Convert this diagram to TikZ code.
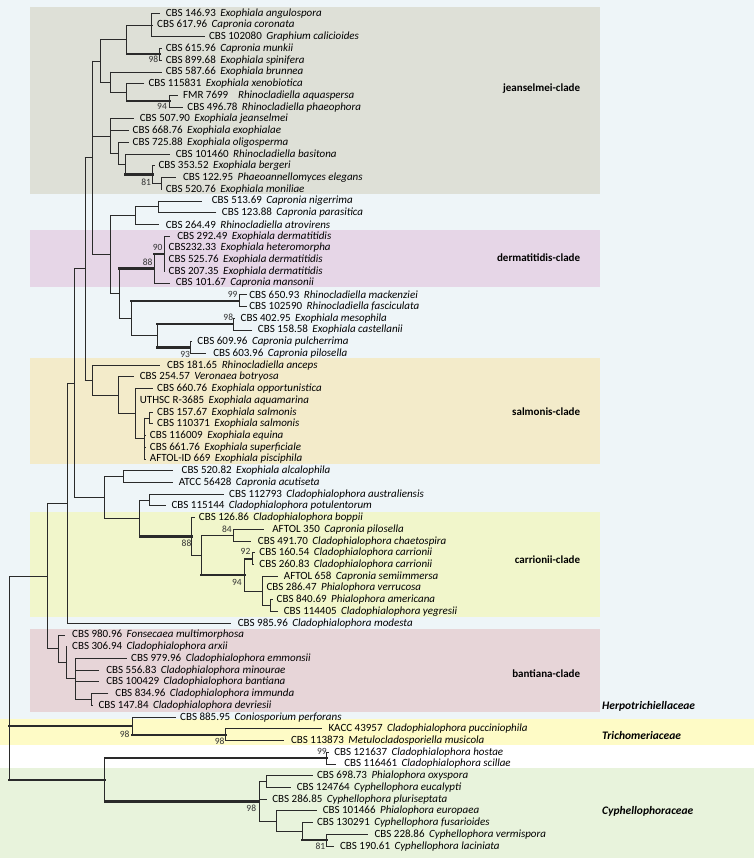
\documentclass[tikz,border=0pt]{standalone}
\usepackage{fontspec}
\setmainfont{Carlito}
\definecolor{bgblue}{HTML}{EEF5F8}
\definecolor{cjean}{HTML}{DEE0D7}
\definecolor{cderm}{HTML}{E6D6E7}
\definecolor{csalm}{HTML}{F3EBCA}
\definecolor{ccarr}{HTML}{F1F6CB}
\definecolor{cbant}{HTML}{E7D5D8}
\definecolor{ctrich}{HTML}{FEFBC6}
\definecolor{ccyph}{HTML}{E8F3DC}
\definecolor{lncol}{HTML}{2A2A2A}
\tikzset{
  lfs/.style={anchor=west, inner sep=0pt, font=\fontsize{11}{12}\selectfont},
  bsv/.style={anchor=east, inner sep=0pt, font=\fontsize{9.5}{10}\selectfont, text=black!80},
  clade/.style={anchor=east, inner sep=0pt, font=\fontsize{11}{12}\selectfont\bfseries},
  fam/.style={anchor=west, inner sep=0pt, font=\fontsize{11.5}{12}\selectfont\bfseries\itshape},
  br/.style={line width=0.9pt, draw=lncol, line cap=rect},
  tk/.style={line width=2.3pt}
}
\newcommand{\leafx}[6]{\coordinate (t#1) at (#2,#3); \node[lfs] (n#1) at (#4,#3) {#5\hspace{2pt} \textit{#6}};}
\newcommand{\hbr}[3][]{\draw[br,#1] (#2 |- #3) -- (#3);}
\newcommand{\vbr}[3]{\draw[br] (#1 |- #2) -- (#1 |- #3);}
\begin{document}
\begin{tikzpicture}[x=1.44pt,y=-1pt]
\useasboundingbox (0,0) rectangle (523.61,858);
% backgrounds
\fill[bgblue] (0,0) rectangle (523.61,858);
\fill[cjean] (20.7,6.7) rectangle (416.7,194);
\fill[cderm] (20.7,230) rectangle (416.7,287.3);
\fill[csalm] (20.7,358.3) rectangle (416.7,464);
\fill[ccarr] (20.7,511.7) rectangle (416.7,617.3);
\fill[cbant] (20.7,629.3) rectangle (416.7,711.7);
\fill[ctrich] (0,719.3) rectangle (523.61,744.7);
\fill[white] (0,744.7) rectangle (523.61,768);
\fill[ccyph] (0,768) rectangle (523.61,858);

% leaves
\leafx{1}{111}{13.3}{115}{CBS 146.93}{Exophiala angulospora}
\leafx{2}{106}{25.0}{109}{CBS 617.96}{Capronia coronata}
\leafx{3}{142}{36.8}{145}{CBS 102080}{Graphium calicioides}
\leafx{4}{112}{48.5}{115}{CBS 615.96}{Capronia munkii}
\leafx{5}{112}{60.2}{115}{CBS 899.68}{Exophiala spinifera}
\leafx{6}{112}{72.0}{115}{CBS 587.66}{Exophiala brunnea}
\leafx{7}{100}{83.7}{103}{CBS 115831}{Exophiala xenobiotica}
\coordinate (t8) at (123,95.4); \node[lfs] (n8) at (127,95.4) {\makebox[55pt][l]{FMR 7699}\textit{Rhinocladiella aquaspersa}};
\leafx{9}{127}{107.1}{130}{CBS 496.78}{Rhinocladiella phaeophora}
\leafx{10}{93}{118.9}{97}{CBS 507.90}{Exophiala jeanselmei}
\leafx{11}{89}{130.6}{92}{CBS 668.76}{Exophiala exophialae}
\leafx{12}{89}{142.3}{92}{CBS 725.88}{Exophiala oligosperma}
\leafx{13}{118}{154.1}{122}{CBS 101460}{Rhinocladiella basitona}
\leafx{14}{107}{165.8}{110}{CBS 353.52}{Exophiala bergeri}
\leafx{15}{122}{177.5}{127}{CBS 122.95}{Phaeoannellomyces elegans}
\leafx{16}{112}{189.2}{115}{CBS 520.76}{Exophiala moniliae}
\leafx{17}{140}{201.0}{147}{CBS 513.69}{Capronia nigerrima}
\leafx{18}{150}{212.7}{154}{CBS 123.88}{Capronia parasitica}
\leafx{19}{110}{224.4}{115}{CBS 264.49}{Rhinocladiella atrovirens}
\leafx{20}{118}{236.2}{123}{CBS 292.49}{Exophiala dermatitidis}
\leafx{21}{114}{247.9}{117}{CBS232.33}{Exophiala heteromorpha}
\leafx{22}{114}{259.6}{117}{CBS 525.76}{Exophiala dermatitidis}
\leafx{23}{114}{271.4}{117}{CBS 207.35}{Exophiala dermatitidis}
\leafx{24}{118}{283.1}{122}{CBS 101.67}{Capronia mansonii}
\leafx{25}{171}{294.8}{173}{CBS 650.93}{Rhinocladiella mackenziei}
\leafx{26}{171}{306.5}{173}{CBS 102590}{Rhinocladiella fasciculata}
\leafx{27}{163}{318.3}{167}{CBS 402.95}{Exophiala mesophila}
\leafx{28}{175}{330.0}{179}{CBS 158.58}{Exophiala castellanii}
\leafx{29}{133}{341.7}{137}{CBS 609.96}{Capronia pulcherrima}
\leafx{30}{143}{353.5}{148}{CBS 603.96}{Capronia pilosella}
\leafx{31}{111}{365.2}{116}{CBS 181.65}{Rhinocladiella anceps}
\leafx{32}{93}{376.9}{97}{CBS 254.57}{Veronaea botryosa}
\leafx{33}{106}{388.6}{109}{CBS 660.76}{Exophiala opportunistica}
\leafx{34}{94}{400.4}{97}{UTHSC R-3685}{Exophiala aquamarina}
\leafx{35}{106}{412.1}{109}{CBS 157.67}{Exophiala salmonis}
\leafx{36}{106}{423.8}{109}{CBS 110371}{Exophiala salmonis}
\leafx{37}{101}{435.6}{104}{CBS 116009}{Exophiala equina}
\leafx{38}{101}{447.3}{104}{CBS 661.76}{Exophiala superficiale}
\leafx{39}{101}{459.0}{104}{AFTOL-ID 669}{Exophiala pisciphila}
\leafx{40}{120}{470.8}{126}{CBS 520.82}{Exophiala alcalophila}
\leafx{41}{120}{482.5}{124}{ATCC 56428}{Capronia acutiseta}
\leafx{42}{155}{494.2}{159}{CBS 112793}{Cladophialophora australiensis}
\leafx{43}{115}{505.9}{119}{CBS 115144}{Cladophialophora potulentorum}
\leafx{44}{135}{517.7}{138}{CBS 126.86}{Cladophialophora boppii}
\leafx{45}{183}{529.4}{189}{AFTOL 350}{Capronia pilosella}
\leafx{46}{174}{541.1}{179}{CBS 491.70}{Cladophialophora chaetospira}
\leafx{47}{177}{552.9}{180}{CBS 160.54}{Cladophialophora carrionii}
\leafx{48}{176}{564.6}{180}{CBS 260.83}{Cladophialophora carrionii}
\leafx{49}{193}{576.3}{197}{AFTOL 658}{Capronia semiimmersa}
\leafx{50}{182}{588.0}{185}{CBS 286.47}{Phialophora verrucosa}
\leafx{51}{189}{599.8}{192}{CBS 840.69}{Phialophora americana}
\leafx{52}{193}{611.5}{197}{CBS 114405}{Cladophialophora yegresii}
\leafx{53}{160}{623.2}{165}{CBS 985.96}{Cladophialophora modesta}
\leafx{54}{45}{635.0}{50}{CBS 980.96}{Fonsecaea multimorphosa}
\leafx{55}{46}{646.7}{50}{CBS 306.94}{Cladophialophora arxii}
\leafx{56}{87.7}{658.4}{91}{CBS 979.96}{Cladophialophora emmonsii}
\leafx{57}{68.3}{670.2}{73.7}{CBS 556.83}{Cladophialophora minourae}
\leafx{58}{68.3}{681.9}{73.7}{CBS 100429}{Cladophialophora bantiana}
\leafx{59}{75}{693.6}{80}{CBS 834.96}{Cladophialophora immunda}
\leafx{60}{64}{705.3}{68.3}{CBS 147.84}{Cladophialophora devriesii}
\leafx{61}{122}{717.1}{125}{CBS 885.95}{Coniosporium perforans}
\leafx{62}{223.3}{728.8}{228}{KACC 43957}{Cladophialophora pucciniophila}
\leafx{63}{196.7}{740.5}{202}{CBS 113873}{Metulocladosporiella musicola}
\leafx{64}{228}{752.3}{232}{CBS 121637}{Cladophialophora hostae}
\leafx{65}{233}{764.0}{239}{CBS 116461}{Cladophialophora scillae}
\leafx{66}{216.7}{775.7}{220}{CBS 698.73}{Phialophora oxyspora}
\leafx{67}{201.7}{787.4}{206}{CBS 124764}{Cyphellophora eucalypti}
\leafx{68}{185}{799.2}{189}{CBS 286.85}{Cyphellophora pluriseptata}
\leafx{69}{220}{810.9}{224}{CBS 101466}{Phialophora europaea}
\leafx{70}{216.7}{822.6}{220}{CBS 130291}{Cyphellophora fusarioides}
\leafx{71}{255}{834.4}{260}{CBS 228.86}{Cyphellophora vermispora}
\leafx{72}{231.7}{846.1}{236}{CBS 190.61}{Cyphellophora laciniata}

% internal nodes
\coordinate (A) at (105,25.05);
\coordinate (N45) at (111,54.35);
\coordinate (B) at (88,39.7);
\coordinate (F) at (118,101.25);
\coordinate (E) at (88,92.5);
\coordinate (D) at (77,82.25);
\coordinate (C) at (70,61.0);
\coordinate (M) at (112,183.35);
\coordinate (NL) at (106,174.6);
\coordinate (K) at (87,164.35);
\coordinate (J) at (82,153.3);
\coordinate (H) at (77,136.1);
\coordinate (Mn) at (110,206.85);
\coordinate (Nn) at (94,215.6);
\coordinate (S) at (114,253.8);
\coordinate (Q) at (107,268.45);
\coordinate (V) at (166,300.65);
\coordinate (X) at (162,324.15);
\coordinate (Y) at (132,347.6);
\coordinate (W) at (109,335.9);
\coordinate (U) at (91,318.3);
\coordinate (T) at (83,293.4);
\coordinate (O) at (77,254.5);
\coordinate (Z2) at (64,157.75);
\coordinate (AE) at (104,417.95);
\coordinate (AD) at (100,438.5);
\coordinate (AC) at (94,413.55);
\coordinate (AB) at (82,395.2);
\coordinate (AA) at (64,380.2);
\coordinate (Z1) at (59,268.95);
\coordinate (AG) at (86,476.65);
\coordinate (AI) at (104,500.05);
\coordinate (AL) at (162,535.25);
\coordinate (AN) at (175,558.75);
\coordinate (AP) at (188,605.65);
\coordinate (AO) at (182,590.98);
\coordinate (AM) at (170,574.86);
\coordinate (AK) at (140,555.05);
\coordinate (AJ) at (133,536.4);
\coordinate (AH) at (97,518.2);
\coordinate (AF) at (72.7,497.4);
\coordinate (Z0) at (52,383.2);
\coordinate (AQ) at (46.7,503.2);
\coordinate (AS) at (63.3,699.45);
\coordinate (AT) at (52.7,678.9);
\coordinate (AU) at (46,662.8);
\coordinate (AV) at (40.7,648.9);
\coordinate (AR) at (33,576.05);
\coordinate (AW) at (156.7,734.65);
\coordinate (TR) at (91.7,725.9);
\coordinate (AY) at (226.7,758.15);
\coordinate (BA) at (185,781.55);
\coordinate (BD) at (226.7,840.25);
\coordinate (BC) at (210,831.4);
\coordinate (BB) at (192,821.15);
\coordinate (AZ) at (180,801.35);
\coordinate (AX) at (72.7,779.75);
\coordinate (ROOT) at (6.7,677.9);

% branches: jeanselmei
\vbr{A}{t1}{t3} \hbr{A}{t1} \hbr{A}{t2} \hbr{A}{t3}
\vbr{N45}{t4}{t5} \hbr{N45}{t4} \hbr{N45}{t5}
\vbr{B}{A}{N45} \hbr{B}{A} \hbr[tk]{B}{N45}
\vbr{F}{t8}{t9} \hbr{F}{t8} \hbr{F}{t9}
\vbr{E}{t7}{F} \hbr{E}{t7} \hbr[tk]{E}{F}
\vbr{D}{t6}{E} \hbr{D}{t6} \hbr{D}{E}
\vbr{C}{B}{D} \hbr{C}{B} \hbr{C}{D}
\vbr{M}{t15}{t16} \hbr{M}{t15} \hbr{M}{t16}
\vbr{NL}{t14}{M} \hbr{NL}{t14} \hbr{NL}{M}
\vbr{K}{t13}{NL} \hbr{K}{t13} \hbr[tk]{K}{NL}
\vbr{J}{t12}{K} \hbr{J}{t12} \hbr{J}{K}
\vbr{H}{t10}{J} \hbr{H}{t10} \hbr{H}{t11} \hbr{H}{J}
% dermatitidis group
\vbr{Mn}{t17}{t18} \hbr{Mn}{t17} \hbr{Mn}{t18}
\vbr{Nn}{Mn}{t19} \hbr{Nn}{Mn} \hbr{Nn}{t19}
\vbr{S}{t20}{t23} \hbr{S}{t20} \hbr{S}{t21} \hbr{S}{t22} \hbr{S}{t23}
\vbr{Q}{S}{t24} \hbr[tk]{Q}{S} \hbr{Q}{t24}
\vbr{V}{t25}{t26} \hbr{V}{t25} \hbr{V}{t26}
\vbr{X}{t27}{t28} \hbr{X}{t27} \hbr{X}{t28}
\vbr{Y}{t29}{t30} \hbr{Y}{t29} \hbr{Y}{t30}
\vbr{W}{X}{Y} \hbr[tk]{W}{X} \hbr[tk]{W}{Y}
\vbr{U}{V}{W} \hbr[tk]{U}{V} \hbr{U}{W}
\vbr{T}{Q}{U} \hbr[tk]{T}{Q} \hbr{T}{U}
\vbr{O}{Nn}{T} \hbr{O}{Nn} \hbr{O}{T}
\vbr{Z2}{C}{O} \hbr{Z2}{C} \hbr{Z2}{H} \hbr{Z2}{O}
% salmonis
\vbr{AE}{t35}{t36} \hbr{AE}{t35} \hbr{AE}{t36}
\vbr{AD}{AE}{t39} \hbr{AD}{AE} \hbr{AD}{t37} \hbr{AD}{t38} \hbr{AD}{t39}
\vbr{AC}{t33}{AD} \hbr{AC}{t33} \hbr{AC}{t34} \hbr{AC}{AD}
\vbr{AB}{t32}{AC} \hbr{AB}{t32} \hbr{AB}{AC}
\vbr{AA}{t31}{AB} \hbr{AA}{t31} \hbr{AA}{AB}
\vbr{Z1}{Z2}{AA} \hbr{Z1}{Z2} \hbr{Z1}{AA}
% carrionii
\vbr{AG}{t40}{t41} \hbr{AG}{t40} \hbr{AG}{t41}
\vbr{AI}{t42}{t43} \hbr{AI}{t42} \hbr{AI}{t43}
\vbr{AL}{t45}{t46} \hbr{AL}{t45} \hbr{AL}{t46}
\vbr{AN}{t47}{t48} \hbr{AN}{t47} \hbr{AN}{t48}
\vbr{AP}{t51}{t52} \hbr{AP}{t51} \hbr{AP}{t52}
\vbr{AO}{t49}{AP} \hbr{AO}{t49} \hbr{AO}{t50} \hbr{AO}{AP}
\vbr{AM}{AN}{AO} \hbr[tk]{AM}{AN} \hbr{AM}{AO}
\vbr{AK}{AL}{AM} \hbr{AK}{AL} \hbr[tk]{AK}{AM}
\vbr{AJ}{t44}{AK} \hbr{AJ}{t44} \hbr{AJ}{AK}
\vbr{AH}{AI}{AJ} \hbr{AH}{AI} \hbr[tk]{AH}{AJ}
\vbr{AF}{AG}{AH} \hbr{AF}{AG} \hbr{AF}{AH}
\vbr{Z0}{Z1}{AF} \hbr{Z0}{Z1} \hbr{Z0}{AF}
\vbr{AQ}{Z0}{t53} \hbr{AQ}{Z0} \hbr{AQ}{t53}
% bantiana
\vbr{AS}{t59}{t60} \hbr{AS}{t59} \hbr{AS}{t60}
\vbr{AT}{t56}{AS} \hbr{AT}{t56} \hbr{AT}{t57} \hbr{AT}{t58} \hbr{AT}{AS}
\vbr{AU}{t55}{AT} \hbr{AU}{t55} \hbr{AU}{AT}
\vbr{AV}{t54}{AU} \hbr{AV}{t54} \hbr{AV}{AU}
\vbr{AR}{AQ}{AV} \hbr{AR}{AQ} \hbr{AR}{AV}
% Trichomeriaceae
\vbr{AW}{t62}{t63} \hbr{AW}{t62} \hbr{AW}{t63}
\vbr{TR}{t61}{AW} \hbr{TR}{t61} \hbr[tk]{TR}{AW}
% Cyphellophoraceae
\vbr{AY}{t64}{t65} \hbr{AY}{t64} \hbr{AY}{t65}
\vbr{BA}{t66}{t67} \hbr{BA}{t66} \hbr{BA}{t67}
\vbr{BD}{t71}{t72} \hbr{BD}{t71} \hbr{BD}{t72}
\vbr{BC}{t70}{BD} \hbr{BC}{t70} \hbr[tk]{BC}{BD}
\vbr{BB}{t69}{BC} \hbr{BB}{t69} \hbr{BB}{BC}
\vbr{AZ}{BA}{BB} \hbr{AZ}{BA} \hbr{AZ}{t68} \hbr{AZ}{BB}
\vbr{AX}{AY}{AZ} \hbr[tk]{AX}{AY} \hbr[tk]{AX}{AZ}
% root
\vbr{ROOT}{AR}{AX} \hbr{ROOT}{AR} \hbr[tk]{ROOT}{TR} \hbr[tk]{ROOT}{AX}

% bootstrap values
\node[bsv] (b1) at (110,59.5) {98};
\node[bsv] (b2) at (116,106) {94};
\node[bsv] (b3) at (105,182) {81};
\node[bsv] (b4) at (113,247) {90};
\node[bsv] (b5) at (106,262) {88};
\node[bsv] (b6) at (165,294) {99};
\node[bsv] (b7) at (162,317) {98};
\node[bsv] (b8) at (132,354) {93};
\node[bsv] (b9) at (161,529) {84};
\node[bsv] (b10) at (133,543) {88};
\node[bsv] (b11) at (174,551) {92};
\node[bsv] (b12) at (168,582) {94};
\node[bsv] (b13) at (90,734.5) {98};
\node[bsv] (b14) at (156,741) {98};
\node[bsv] (b15) at (227,751.5) {99};
\node[bsv] (b16) at (178,808.5) {98};
\node[bsv] (b17) at (226,846) {81};

% clade labels
\node[clade] (c1) at (403,88.3) {jeanselmei-clade};
\node[clade] (c2) at (403,258) {dermatitidis-clade};
\node[clade] (c3) at (403,411.7) {salmonis-clade};
\node[clade] (c4) at (403,560) {carrionii-clade};
\node[clade] (c5) at (403,673.3) {bantiana-clade};
\node[fam] (f1) at (418,706.7) {Herpotrichiellaceae};
\node[fam] (f2) at (418,735) {Trichomeriaceae};
\node[fam] (f3) at (418,811) {Cyphellophoraceae};
\end{tikzpicture}
\end{document}
